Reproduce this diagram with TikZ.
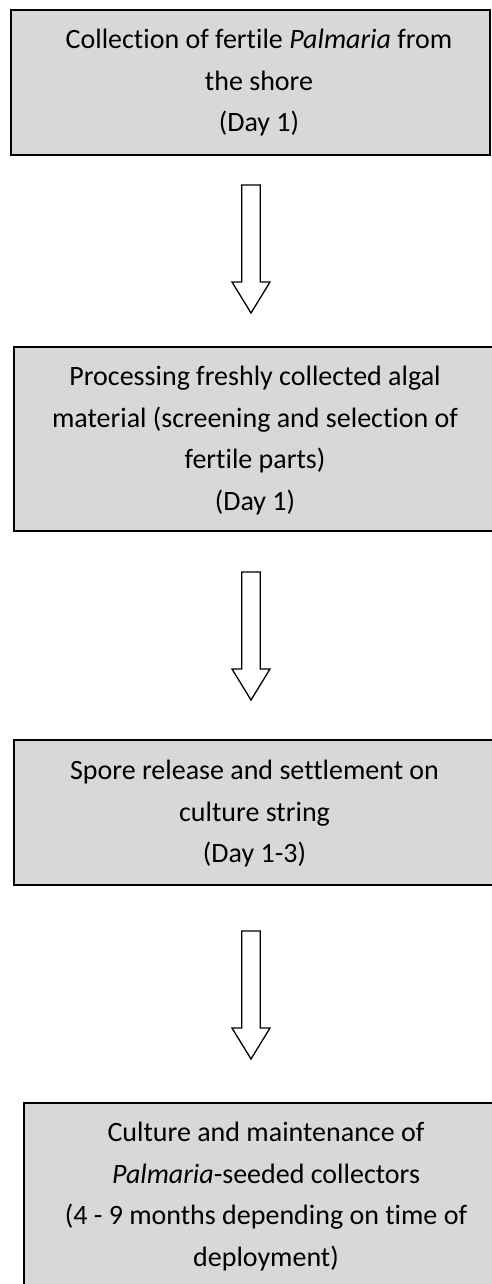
\documentclass[tikz,border=0pt]{standalone}
\usepackage{fontspec}
\setmainfont[Ligatures=NoCommon]{Carlito}
\begin{document}
\begin{tikzpicture}[x=1pt,y=-1pt,
  stepbox/.style={draw=black, line width=2pt, fill=boxgray, inner sep=0pt},
  steptext/.style={align=center, inner sep=0pt, font=\fontsize{28}{41.5}\selectfont},
  blockarrow/.style={draw=black, line width=1.3pt, fill=white, line join=miter}]
\definecolor{boxgray}{HTML}{D8D8D8}
\useasboundingbox (0,0) rectangle (492,1284);
% boxes
\node[stepbox, minimum width=479pt, minimum height=145pt] (b1) at (250.5,82.5) {};
\node[stepbox, minimum width=482pt, minimum height=184pt] (b2) at (255,439) {};
\node[stepbox, minimum width=482pt, minimum height=145pt] (b3) at (255,812.5) {};
\node[stepbox, minimum width=484pt, minimum height=185pt] (b4) at (266,1195.5) {};
% texts
\node[steptext] (t1) at (259,83) {Collection of fertile \textit{Palmaria} from\\the shore\\(Day 1)};
\node[steptext] (t2) at (255,440.5) {Processing freshly collected algal\\material (screening and selection of\\fertile parts)\\(Day 1)};
\node[steptext] (t3) at (254.5,814) {Spore release and settlement on\\culture string\\(Day 1-3)};
\node[steptext] (t4) at (266,1196.5) {Culture and maintenance of\\\textit{Palmaria}-seeded collectors\\(4 - 9 months depending on time of\\deployment)};
% arrows
\coordinate (a1) at (251,185);
\coordinate (a2) at (251,572);
\coordinate (a3) at (251,931);
\foreach \a in {a1,a2,a3}{
  \draw[blockarrow] (\a) ++(-9.25,0) -- ++(0,97) -- ++(-9.75,0) -- ++(19,31) -- ++(19,-31) -- ++(-9.75,0) -- ++(0,-97) -- cycle;
}
\end{tikzpicture}
\end{document}
